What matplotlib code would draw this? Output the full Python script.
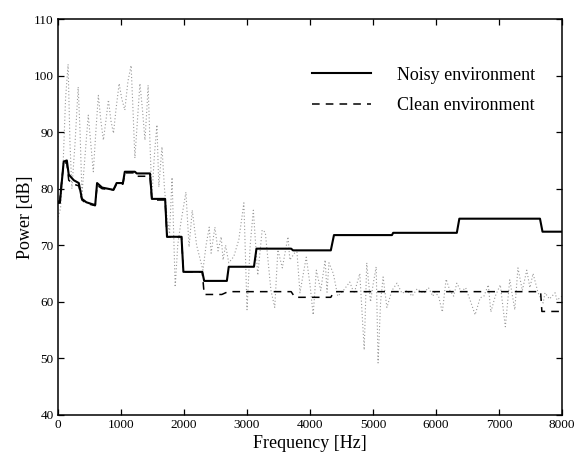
import matplotlib
matplotlib.use("Agg")
import matplotlib.pyplot as plt

# raw spectrum (dotted)
spec_freq = [0, 40, 80, 120, 160, 190, 220, 270, 320, 350, 380, 430, 480, 520, 560,
             600, 640, 680, 720, 760, 800, 840, 880, 920, 970, 1010, 1060, 1110, 1160,
             1190, 1220, 1260, 1300, 1340, 1380, 1410, 1430, 1460, 1490, 1530, 1570,
             1600, 1650, 1690, 1730, 1770, 1810, 1860, 1900, 1950, 2030, 2080, 2130,
             2200, 2300, 2350, 2400, 2430, 2490, 2540, 2590, 2620, 2660, 2710, 2790,
             2870, 2950, 3000, 3050, 3100, 3170, 3240, 3290, 3380, 3440, 3490, 3560,
             3650, 3680, 3790, 3840, 3940, 4000, 4050, 4100, 4170, 4240, 4270, 4300,
             4370, 4440, 4530, 4630, 4700, 4790, 4860, 4900, 4960, 5000, 5050, 5080,
             5120, 5160, 5220, 5300, 5380, 5460, 5540, 5620, 5700, 5800, 5880, 5950,
             5980, 6040, 6100, 6160, 6220, 6280, 6330, 6400, 6470, 6550, 6620, 6700,
             6760, 6830, 6870, 6940, 7020, 7100, 7170, 7250, 7300, 7370, 7440, 7490,
             7540, 7620, 7700, 7730, 7800, 7890, 7920, 8000]
spec_db = [75, 76.5, 84, 96, 102, 88, 80, 88, 98, 90, 79, 86, 93, 88, 83,
           90, 96.5, 92, 88.6, 92, 95.7, 92, 89.8, 94, 98.6, 96, 93.9, 99, 101.8,
           94, 85.4, 92, 98.6, 94, 88.6, 94, 98.3, 88, 78.5, 86, 91.3,
           80.3, 87.4, 80, 75, 72, 82, 62.6, 70, 74, 79.4, 69.7, 76.2,
           70, 65.6, 70, 73.2, 68.6, 73.2, 69, 71.5, 67.4, 70, 66.9, 68,
           71, 77.5, 58.6, 70, 76.2, 64.7, 72.7, 72.3, 62, 59, 69.2, 66,
           71.5, 67.4, 69.2, 61.6, 67.9, 63, 57.7, 65.6, 62, 67.4, 61.7, 66.9,
           65, 61, 62, 63.5, 61.5, 65, 51.5, 66.9, 60, 63, 66.2, 49.2,
           60, 64.4, 59, 62, 63.3, 61.5, 62, 61, 62.3, 61.5, 62.5, 61,
           61.7, 61, 58.2, 64, 62, 61, 63.3, 61.8, 62.5, 60, 57.7, 60.7,
           61, 63, 58.2, 61, 63, 55.6, 63.9, 58.6, 66, 62, 65.6, 62.5,
           65, 61.6, 59.8, 61.6, 60.5, 61.6, 60.3, 61]

# noisy environment (solid steps)
noisy_freq = [0, 30, 50, 90, 140, 170, 250, 330, 380, 450, 590, 620, 700, 880, 930,
              1030, 1060, 1220, 1250, 1460, 1490, 1700, 1730, 1960, 1990, 2290, 2320,
              2680, 2710, 3110, 3150, 3700, 3730, 4330, 4380, 5300, 5320, 6330, 6370,
              7650, 7690, 8000]
noisy_db = [77.5, 77.5, 80, 84.8, 85, 82.5, 81.5, 81, 78.2, 77.6, 77.1, 81, 80.2, 79.8, 81,
            81, 83, 83, 82.7, 82.7, 78.2, 78.2, 71.5, 71.5, 65.3, 65.3, 63.7,
            63.7, 66.2, 66.2, 69.4, 69.4, 69.1, 69.1, 71.8, 71.8, 72.2, 72.2, 74.7,
            74.7, 72.4, 72.4]

# clean environment (dashed steps)
clean_freq = [0, 30, 50, 90, 140, 170, 250, 330, 380, 450, 590, 620, 700, 880, 930,
              1030, 1060, 1200, 1230, 1460, 1490, 1700, 1730, 1960, 1990, 2290, 2320,
              2600, 2700, 3700, 3760, 4330, 4380, 7660, 7680, 7950]
clean_db = [77.8, 77.8, 80.5, 84.5, 84.6, 81.5, 80.8, 80.5, 78, 77.4, 77, 80.6, 80, 79.8, 80.8,
            80.8, 82.8, 82.8, 82.2, 82.2, 78, 78, 71.5, 71.5, 65.3, 65.3, 61.3,
            61.3, 61.8, 61.8, 60.8, 60.8, 61.8, 61.8, 58.3, 58.3]

xticks = [0, 1000, 2000, 3000, 4000, 5000, 6000, 7000, 8000]
yticks = [40, 50, 60, 70, 80, 90, 100, 110]

plt.rcParams["font.family"] = ["Liberation Serif", "DejaVu Serif"]

fig = plt.figure(figsize=(5.79, 4.53), dpi=100)
ax = fig.add_axes([0.1002, 0.084, 0.8705, 0.874])

ax.plot(spec_freq, spec_db, color="#9a9a9a", lw=0.8, linestyle=(0, (1, 2)))
ax.plot(noisy_freq, noisy_db, color="black", lw=1.5, label="Noisy environment")
ax.plot(clean_freq, clean_db, color="black", lw=1.1, linestyle=(0, (5, 4)),
        label="Clean environment")

ax.set_xlim(0, 8000)
ax.set_ylim(40, 110)
ax.set_xticks(xticks)
ax.set_yticks(yticks)
ax.tick_params(direction="in", top=True, right=True, length=4, width=0.9,
               labelsize=9.5, pad=3)
for s in ax.spines.values():
    s.set_linewidth(1.1)

ax.set_xlabel("Frequency [Hz]", fontsize=13, labelpad=3)
ax.set_ylabel("Power [dB]", fontsize=13, labelpad=0)

ax.legend(loc="upper right", bbox_to_anchor=(0.946, 0.88), frameon=False,
          fontsize=13, handlelength=3.3, handletextpad=1.4, labelspacing=0.75,
          borderpad=0, borderaxespad=0)

fig.savefig("out.png", dpi=100)
